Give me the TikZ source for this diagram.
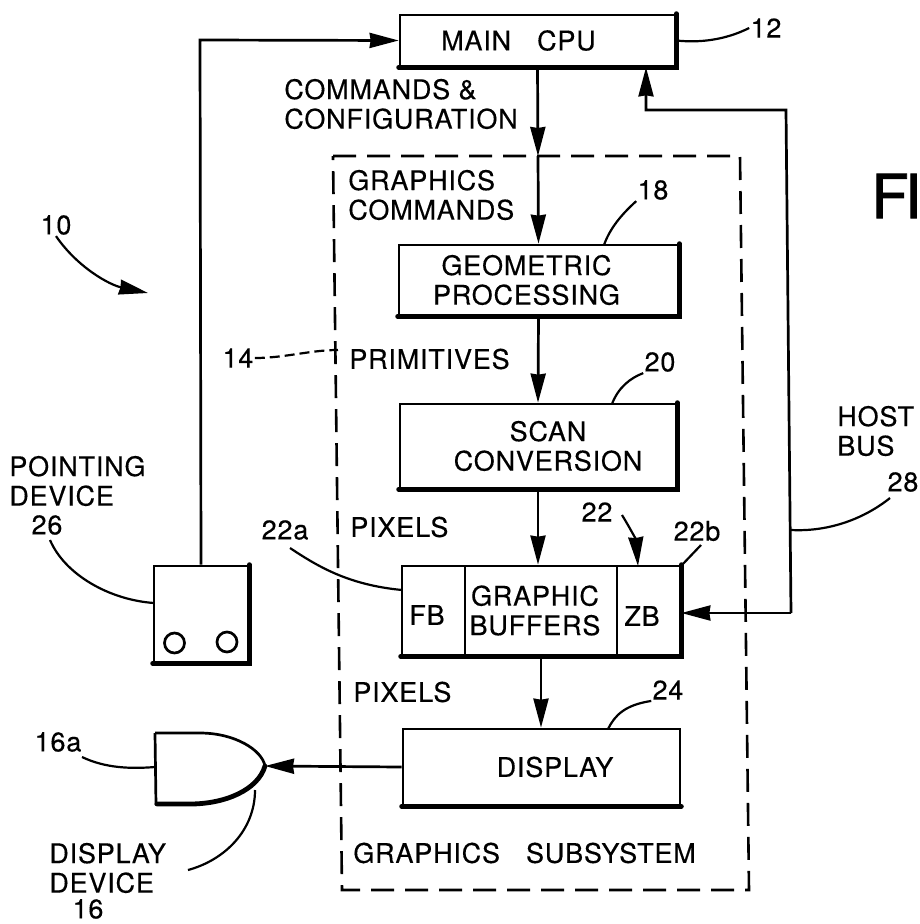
\documentclass[tikz,border=0pt]{standalone}
\usepackage{fontspec}
\setmainfont[LetterSpace=3,FakeBold=0.35]{TeX Gyre Heros}
\newfontfamily\figfont[FakeBold=1.2]{TeX Gyre Heros}
\usetikzlibrary{arrows.meta}
\newcommand{\labelfont}{\fontsize{27}{29.5}\selectfont}

\begin{document}
\begin{tikzpicture}[>={Stealth[length=29pt,width=15pt,inset=1pt]}, x=1pt, y=-1pt, line width=2.7pt,
    box/.style={draw, inner sep=0pt, align=center, font=\labelfont},
    txt/.style={inner sep=0pt, align=left, font=\labelfont},
    heavy/.style={line width=4.8pt, line cap=round},
    lead/.style={line width=2.2pt},
    subsys/.style={line width=2.6pt, dash pattern=on 23pt off 11pt}]
    \useasboundingbox (0, 0) rectangle (920, 924);

    \node[box, minimum width=275pt, minimum height=51pt] (cpu) at (537.5, 40.5) {\mbox{MAIN\hspace{26pt}CPU\hspace{38pt}}};
    \node[box, minimum width=279pt, minimum height=70pt] (geo) at (538.5, 280) {\hspace*{-24pt}GEOMETRIC\\\hspace*{-24pt}PROCESSING};
    \node[box, minimum width=276pt, minimum height=84pt] (scan) at (538, 446) {\hspace*{20pt}SCAN\\\hspace*{20pt}CONVERSION};
    \node[box, minimum width=63pt, minimum height=89pt] (fb) at (433.5, 610.5) {};
    \node[box, minimum width=152pt, minimum height=89pt] (buf) at (541, 610.5) {\hspace*{-12pt}GRAPHIC\\\hspace*{-12pt}BUFFERS};
    \node[box, minimum width=63pt, minimum height=89pt] (zb) at (648.5, 610.5) {};
    \node[box, minimum width=277pt, minimum height=76pt] (disp) at (541.5, 767) {\hspace*{27pt}DISPLAY};
    \node[box, minimum width=94pt, minimum height=96pt] (point) at (201, 614) {};
    \node[txt] (fblabel) at (427, 615) {FB};
    \node[txt] (zblabel) at (642, 616) {ZB};

    % heavy edges
    \draw[heavy] (cpu.north east) -- (cpu.south east) -- (cpu.south west);
    \draw[heavy] (geo.north east) -- (geo.south east) -- (geo.south west);
    \draw[heavy] (scan.north east) -- (scan.south east) -- (scan.south west);
    \draw[heavy] (zb.north east) -- (zb.south east) -- (fb.south west);
    \draw[heavy] (disp.south east) -- (disp.south west);
    \draw[heavy] (point.north east) -- (point.south east) -- (point.south west);

    % subsystem outline
    \draw[subsys] (333, 156) -- (740, 156) -- (749, 890) -- (342, 890) -- cycle;

    % pointing device buttons
    \node[draw, circle, minimum size=20pt, inner sep=0pt] (btnl) at (174.5, 643) {};
    \node[draw, circle, minimum size=20pt, inner sep=0pt] (btnr) at (227, 642) {};

    % display device
    \coordinate (dev) at (265, 766);
    \coordinate (devleft) at (155, 767);
    \coordinate (devarc) at (255, 790);
    \draw (155, 733) -- (200, 733) .. controls (235, 733) and (262, 750) .. (dev);
    \draw (155, 733) -- (156, 805);
    \draw[heavy] (dev) .. controls (258, 790) and (225, 804) .. (190, 804) -- (157, 804);

    % signal paths
    \coordinate (split) at (538, 156);
    \coordinate (hostup) at (646, 110);
    \coordinate (hosttop) at (786, 110);
    \coordinate (hostlow) at (791, 613);
    \coordinate (ptrtop) at (200, 40);
    \draw[->] (cpu.south) -- (split);
    \draw[->] (split) -- (geo.north);
    \draw[->] (geo.south) -- (scan.north);
    \draw[->] (scan.south) -- (buf.north -| scan.south);
    \draw[->] (buf.south) -- (disp.north -| buf.south);
    \draw[->] (disp.west) -- (dev);
    \draw[->] (point.north) -- (ptrtop) -- (cpu.west);
    \draw[->] (hostlow) -- (zb.east |- hostlow);
    \draw[->] (hostlow) -- (hosttop) -- (hostup) -- (cpu.south -| hostup);

    % texts
    \node[txt] (cmds) at (283, 104) [anchor=west] {COMMANDS \&\\CONFIGURATION};
    \node[txt] (gcmds) at (347, 195) [anchor=west] {GRAPHICS\\COMMANDS};
    \node[txt, anchor=west] (prim) at (348, 359) {PRIMITIVES};
    \node[txt, anchor=west] (pix1) at (349, 527) {PIXELS};
    \node[txt, anchor=west] (pix2) at (352, 692) {PIXELS};
    \node[txt, anchor=west] (gsub) at (352, 853) {GRAPHICS\hspace{26pt}SUBSYSTEM};
    \node[txt, anchor=west] (host) at (836, 431) {HOST\\BUS};
    \node[txt, anchor=west] (pdev) at (8, 481) {POINTING\\DEVICE};
    \node[txt, anchor=west] (ddev) at (48, 868) {DISPLAY\\DEVICE};
    \node[inner sep=0pt, anchor=west, font=\figfont\fontsize{61}{61}\selectfont] (fig) at (870, 196) {F\kern-4pt I};

    % reference numbers
    \node[txt] (n10) at (56, 225) {10};
    \node[txt] (n12) at (766, 28) {12};
    \node[txt] (n14) at (238, 358) {14};
    \node[txt] (n16) at (88, 909) {16};
    \node[txt] (n16a) at (58, 742) {16a};
    \node[txt] (n18) at (653, 190) {18};
    \node[txt] (n20) at (660, 362) {20};
    \node[txt] (n22) at (597, 512) {22};
    \node[txt] (n22a) at (285, 530) {22a};
    \node[txt] (n22b) at (697, 531) {22b};
    \node[txt] (n24) at (668, 690) {24};
    \node[txt] (n26) at (47, 525) {26};
    \node[txt] (n28) at (903, 482) {28};

    % leaders
    \coordinate (a10) at (148, 293);
    \coordinate (a22) at (638, 566);
    \coordinate (s22) at (622, 515);
    \coordinate (e18) at (604, 245);
    \coordinate (e20) at (612, 404);
    \coordinate (e24) at (608, 729);
    \coordinate (e22b) at (681, 566);
    \coordinate (s22b) at (701, 545);
    \coordinate (e14) at (338, 350);
    \coordinate (e22a) at (402, 590);
    \coordinate (s22a) at (290, 548);
    \coordinate (e26) at (154, 603);
    \coordinate (s26) at (50, 540);
    \coordinate (e28) at (791, 530);
    \coordinate (s28) at (890, 498);
    \coordinate (s16a) at (82, 757);
    \coordinate (s16) at (188, 870);
    \draw[lead] (cpu.east) .. controls (700, 43) and (725, 40) .. (n12.west);
    \draw[lead] (e18) .. controls (610, 228) and (622, 214) .. (n18.south west);
    \draw[lead] (e20) .. controls (618, 388) and (630, 378) .. (n20.south west);
    \draw[lead] (e24) .. controls (615, 715) and (625, 705) .. (n24.south west);
    \draw[lead] (e22b) -- (s22b);
    \draw[lead] (e22a) .. controls (350, 585) and (320, 568) .. (s22a);
    \draw[lead] (e26) .. controls (110, 600) and (65, 575) .. (s26);
    \draw[lead] (e28) .. controls (830, 532) and (865, 518) .. (s28);
    \draw[lead] (devleft) .. controls (130, 769) and (105, 768) .. (s16a);
    \draw[lead] (devarc) .. controls (255, 830) and (225, 860) .. (s16);
    \draw[lead, dash pattern=on 10pt off 5pt] (n14.east) .. controls (285, 358) and (310, 350) .. (e14);
    \draw[lead, ->] (n10.south) .. controls (78, 268) and (110, 285) .. (a10);
    \draw[lead, ->] (s22) .. controls (630, 528) and (636, 540) .. (a22);
\end{tikzpicture}
\end{document}
